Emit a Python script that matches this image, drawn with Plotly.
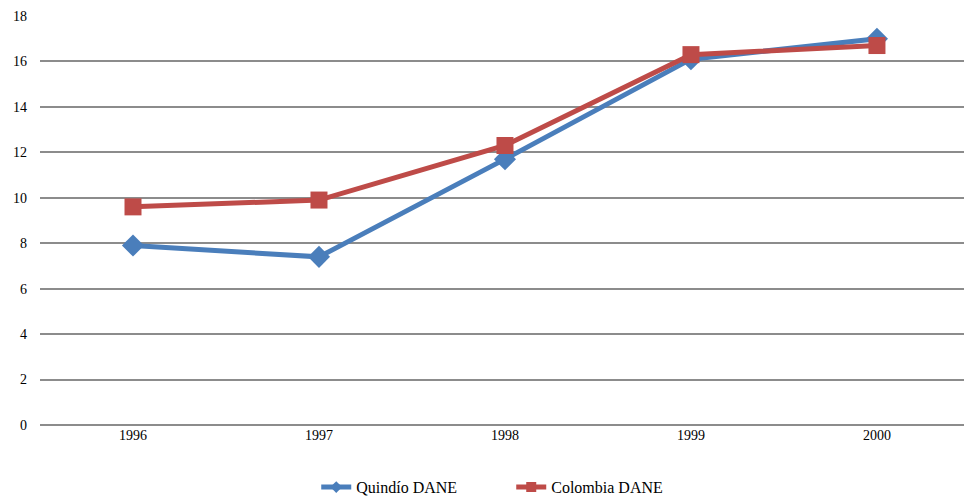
import plotly.graph_objects as go

years = ["1996", "1997", "1998", "1999", "2000"]
quindio = [7.9, 7.4, 11.7, 16.1, 17.0]
colombia = [9.6, 9.9, 12.3, 16.3, 16.7]

font_family = "Liberation Serif"
blue = "#4a7ebb"
red = "#be4b48"

fig = go.Figure()
fig.add_trace(go.Scatter(
    x=years, y=quindio, name="Quindío DANE", mode="lines+markers", showlegend=False,
    line=dict(color=blue, width=5),
    marker=dict(symbol="diamond", size=17, color=blue),
))
fig.add_trace(go.Scatter(
    x=years, y=colombia, name="Colombia DANE", mode="lines+markers", showlegend=False,
    line=dict(color=red, width=5),
    marker=dict(symbol="square", size=17, color=red),
))
# legend entries with smaller markers
fig.add_trace(go.Scatter(
    x=[None], y=[None], name="Quindío DANE", mode="lines+markers",
    line=dict(color=blue, width=5), marker=dict(symbol="diamond", size=9, color=blue),
))
fig.add_trace(go.Scatter(
    x=[None], y=[None], name="Colombia DANE", mode="lines+markers",
    line=dict(color=red, width=5), marker=dict(symbol="square", size=10, color=red),
))

fig.update_layout(
    width=964, height=499,
    margin=dict(l=40, r=0, t=16, b=74, autoexpand=False),
    paper_bgcolor="white", plot_bgcolor="white",
    font=dict(family=font_family, size=14, color="black"),
    showlegend=True,
    legend=dict(orientation="h", x=0.51, xanchor="center", y=-0.152, yanchor="middle",
                entrywidth=150, font=dict(family=font_family, size=16, color="black")),
    xaxis=dict(type="category", range=[-0.5, 4.468], showgrid=False, zeroline=False,
               showline=False, ticks="", tickfont=dict(size=14)),
    yaxis=dict(range=[0, 18], dtick=2, showgrid=True, gridcolor="#8c8c8c", gridwidth=2,
               zeroline=True, zerolinecolor="#8c8c8c", zerolinewidth=2,
               showline=False, ticks="", ticklabelstandoff=12,
               tickfont=dict(size=14)),
)

fig.write_html("out.html")
